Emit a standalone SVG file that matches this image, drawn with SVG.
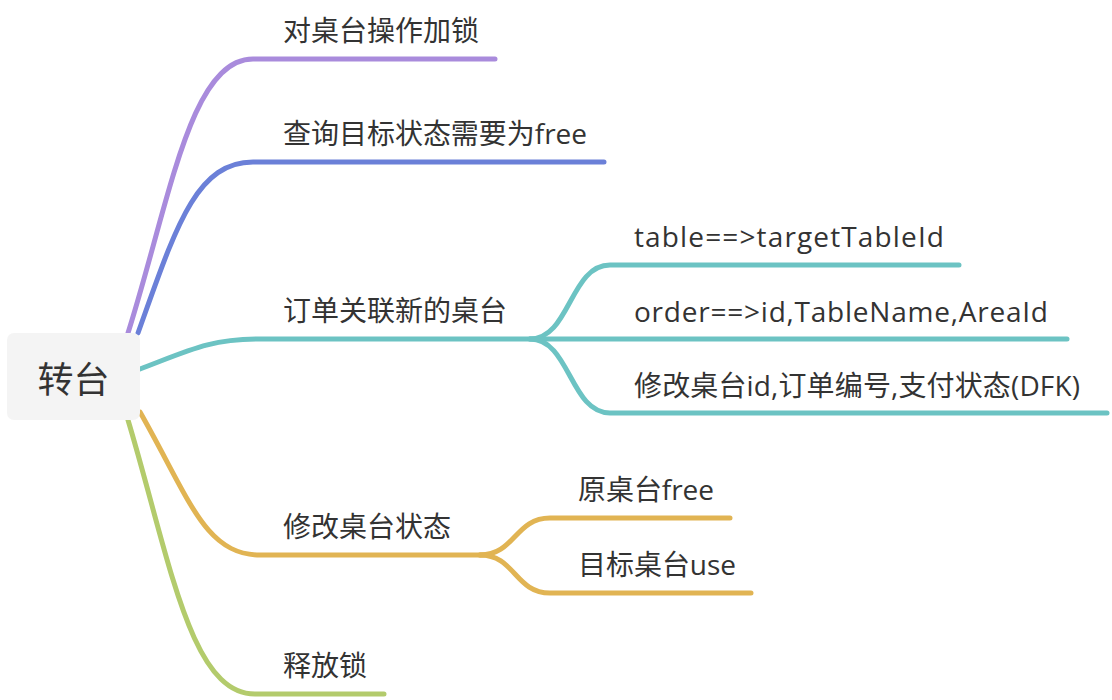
<svg xmlns="http://www.w3.org/2000/svg" width="1112" height="700" viewBox="0 0 1112 700">
<style>
.l{fill:none;stroke-width:5;stroke-linecap:round;stroke-linejoin:round}
.t{font-family:'Open Sans','Noto Sans CJK SC',sans-serif;font-size:28px;fill:#333}
.r{font-family:'Noto Sans CJK SC',sans-serif;font-size:36px;fill:#333}
</style>
<rect width="1112" height="700" fill="#fff"/>
<g id="connectors">
<path class="l" stroke="#a98bdc" d="M128,333 C170,200 190,59 253,59 L495,59"/>
<path class="l" stroke="#6b80d8" d="M138,333 C175,230 195,162 253,162 L604,162"/>
<path class="l" stroke="#6cc3c3" d="M140,369 C190,350 210,339 260,339 L543,339"/>
<path class="l" stroke="#6cc3c3" d="M530,339 C570,339 570,265 610,265 L959,265"/>
<path class="l" stroke="#6cc3c3" d="M543,339 L1067,339"/>
<path class="l" stroke="#6cc3c3" d="M530,339 C570,339 570,413 610,413 L1107,413"/>
<path class="l" stroke="#e1b453" d="M140,412 C190,500 205,555 260,555 L490,555"/>
<path class="l" stroke="#e1b453" d="M480,555 C515,555 515,518 550,518 L730,518"/>
<path class="l" stroke="#e1b453" d="M480,555 C515,555 515,593 550,593 L751,593"/>
<path class="l" stroke="#b3cb6c" d="M128,420 C170,560 190,694 255,694 L384,694"/>
</g>
<g id="root">
<rect x="7" y="333" width="133" height="87" rx="7" fill="#f4f4f4"/>
<text class="r" x="73.5" y="393" text-anchor="middle">转台</text>
</g>
<g id="n1"><text class="t" x="283" y="41">对桌台操作加锁</text></g>
<g id="n2"><text class="t" x="283" y="144" textLength="304" lengthAdjust="spacing">查询目标状态需要为free</text></g>
<g id="n3"><text class="t" x="283" y="321">订单关联新的桌台</text></g>
<g id="n3a"><text class="t" x="634" y="247" textLength="310" lengthAdjust="spacing">table==&gt;targetTableId</text></g>
<g id="n3b"><text class="t" x="634" y="322" textLength="414" lengthAdjust="spacing">order==&gt;id,TableName,AreaId</text></g>
<g id="n3c"><text class="t" x="634" y="396" textLength="446" lengthAdjust="spacing">修改桌台id,订单编号,支付状态(DFK)</text></g>
<g id="n4"><text class="t" x="283" y="537">修改桌台状态</text></g>
<g id="n4a"><text class="t" x="578" y="500" textLength="136" lengthAdjust="spacing">原桌台free</text></g>
<g id="n4b"><text class="t" x="578" y="575" textLength="158" lengthAdjust="spacing">目标桌台use</text></g>
<g id="n5"><text class="t" x="283" y="676">释放锁</text></g>
</svg>
